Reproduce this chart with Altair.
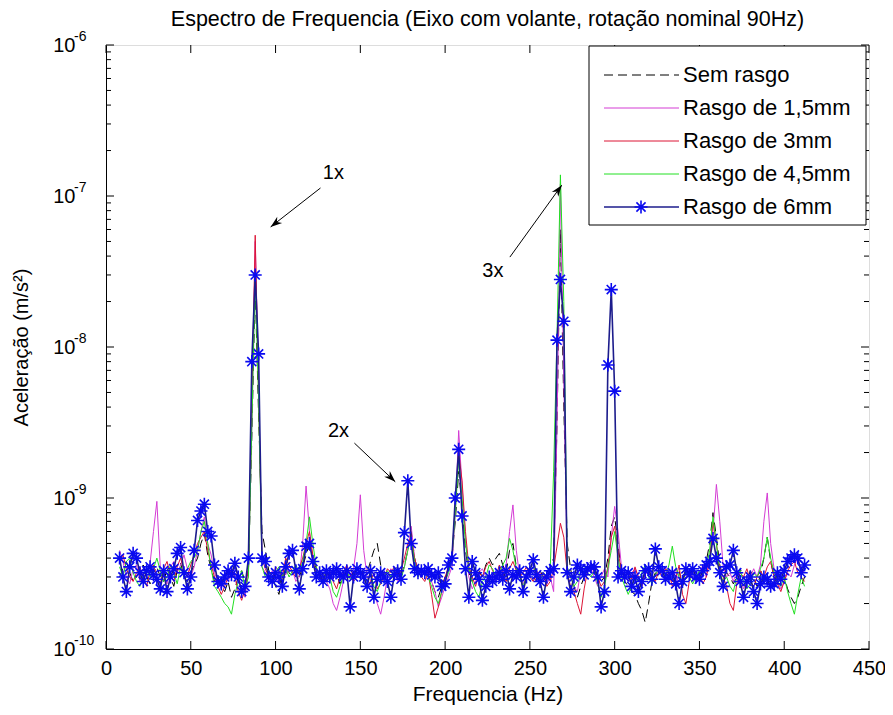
import altair as alt
import pandas as pd

# ---------------- data (acceleration in units of 1e-10 m/s^2) ----------------
freq_hz = list(range(8, 413, 2))

sem_rasgo = [
    3.0, 3.4, 3.8, 3.2, 2.8, 3.0, 3.3, 3.6, 3.0, 2.7,
    3.2, 3.5, 3.0, 2.8, 3.4, 3.0, 2.6, 3.3, 3.7, 3.0,
    2.8, 3.2, 3.6, 4.0, 5.0, 5.8, 4.2, 3.4, 2.8, 3.0,
    2.6, 2.4, 2.8, 2.2, 2.5, 3.0, 3.3, 2.8, 3.2, 25,
    250, 35, 6.0, 4.5, 3.3, 3.0, 2.6, 2.3, 3.0, 3.4,
    3.2, 3.0, 3.4, 3.0, 3.5, 4.2, 5.0, 4.0, 3.4, 3.0,
    3.2, 2.8, 3.0, 3.4, 3.1, 2.7, 3.0, 3.2, 3.5, 3.0,
    3.3, 3.6, 3.0, 3.2, 3.8, 4.5, 5.0, 3.6, 3.0, 3.2,
    3.0, 3.3, 3.5, 3.0, 3.6, 4.5, 6.0, 4.0, 3.3, 3.0,
    3.2, 3.0, 2.8, 2.4, 2.2, 2.6, 3.0, 3.3, 4.0, 7.0,
    15, 9.0, 4.5, 3.2, 2.8, 3.0, 3.3, 3.0, 3.6, 4.0,
    3.6, 4.0, 4.3, 3.6, 3.2, 4.5, 5.0, 3.5, 3.0, 2.8,
    3.2, 3.5, 3.0, 2.8, 3.3, 3.0, 3.2, 3.5, 4.0, 30,
    600, 40, 5.0, 3.4, 2.6, 2.2, 2.6, 3.0, 3.4, 3.6,
    3.3, 3.0, 2.8, 3.0, 4.0, 6.5, 7.5, 5.0, 3.2, 2.8,
    2.6, 2.4, 2.3, 2.0, 1.8, 1.5, 2.0, 2.8, 3.2, 3.0,
    3.4, 3.0, 3.2, 2.8, 3.0, 3.3, 2.6, 3.0, 3.2, 3.5,
    3.2, 3.0, 3.4, 3.8, 5.0, 8.0, 5.5, 3.6, 3.0, 3.2,
    3.0, 2.7, 3.0, 3.4, 3.0, 2.8, 3.3, 3.0, 2.6, 3.1,
    4.0, 5.5, 3.8, 3.0, 2.8, 3.2, 3.0, 2.5, 2.2, 2.0,
    2.2, 2.6, 3.0,
]

rasgo_1_5mm = [
    4.5, 3.8, 3.0, 2.7, 3.4, 3.6, 2.8, 3.0, 3.2, 3.7,
    6.0, 9.5, 3.5, 3.0, 2.7, 3.5, 3.8, 3.2, 3.6, 4.2,
    3.4, 3.0, 3.5, 4.5, 6.0, 7.5, 5.0, 4.2, 3.2, 2.8,
    2.5, 3.0, 2.8, 3.2, 3.5, 3.0, 2.4, 2.2, 3.2, 30,
    500, 60, 3.5, 3.2, 2.8, 3.3, 3.0, 2.7, 3.4, 3.1,
    3.5, 3.3, 2.8, 3.0, 5.0, 12, 6.0, 3.8, 3.2, 3.0,
    3.0, 2.8, 2.5, 2.0, 1.8, 2.2, 2.8, 3.2, 3.0, 3.4,
    5.0, 10.5, 4.5, 3.0, 2.6, 2.4, 2.0, 1.7, 2.2, 3.0,
    3.4, 3.2, 2.8, 3.0, 3.5, 4.5, 6.5, 4.0, 3.2, 3.0,
    3.3, 3.0, 2.8, 2.4, 1.9, 2.2, 2.6, 3.0, 3.5, 8.0,
    28, 12, 5.5, 3.0, 2.5, 2.8, 3.2, 3.4, 3.0, 2.8,
    3.1, 2.8, 3.0, 3.2, 3.6, 6.0, 9.0, 4.5, 3.0, 2.7,
    3.0, 3.3, 3.5, 2.8, 3.2, 3.0, 2.7, 3.0, 2.4, 30,
    1200, 60, 3.5, 3.0, 2.6, 2.4, 3.3, 3.0, 3.2, 3.4,
    3.0, 2.6, 3.0, 3.4, 3.0, 5.5, 8.8, 6.0, 3.5, 3.0,
    2.8, 3.2, 3.4, 3.0, 2.6, 3.1, 3.3, 2.9, 3.0, 3.5,
    3.2, 3.5, 3.0, 2.8, 3.4, 2.5, 2.7, 3.0, 3.3, 3.0,
    2.8, 3.2, 3.6, 3.0, 4.0, 6.0, 12.3, 7.0, 3.5, 3.0,
    3.2, 2.8, 3.3, 3.0, 2.5, 2.8, 3.0, 3.4, 3.0, 3.6,
    7.0, 10.8, 5.0, 3.4, 2.8, 2.5, 2.8, 3.2, 3.0, 3.6,
    4.0, 3.4, 3.2,
]

rasgo_3mm = [
    3.8, 4.2, 3.4, 3.0, 2.8, 3.2, 3.5, 3.0, 2.6, 3.3,
    3.6, 3.0, 2.7, 3.4, 3.8, 3.1, 2.8, 3.5, 4.0, 3.3,
    3.0, 3.6, 4.2, 5.0, 5.5, 6.0, 4.5, 3.6, 3.0, 2.6,
    2.3, 2.6, 3.0, 3.4, 3.0, 2.4, 2.1, 2.5, 3.5, 40,
    550, 50, 4.0, 3.4, 3.0, 2.8, 3.5, 3.3, 3.0, 4.0,
    3.6, 3.2, 3.0, 3.4, 4.0, 5.0, 6.0, 4.2, 3.5, 3.0,
    2.7, 3.0, 3.3, 2.8, 2.5, 3.0, 3.2, 3.6, 3.1, 2.8,
    3.0, 3.3, 3.0, 2.6, 2.8, 3.2, 2.5, 2.7, 3.0, 3.4,
    3.2, 3.5, 3.0, 3.3, 4.0, 5.0, 5.5, 4.0, 3.3, 3.0,
    2.8, 3.2, 2.3, 1.6, 1.9, 2.4, 3.0, 3.5, 4.0, 9.0,
    20, 13, 6.0, 3.5, 3.0, 2.6, 3.2, 3.0, 3.5, 3.8,
    3.3, 3.0, 3.6, 3.2, 2.8, 3.4, 3.8, 3.3, 3.0, 3.2,
    3.5, 3.0, 2.8, 3.3, 3.0, 3.2, 2.6, 2.8, 3.4, 4.8,
    6.8, 5.5, 3.2, 2.6, 2.4, 2.0, 1.7, 2.5, 3.3, 3.6,
    3.2, 3.0, 2.6, 2.8, 3.5, 5.5, 6.5, 4.5, 3.2, 3.0,
    3.3, 2.9, 3.5, 3.0, 2.6, 3.2, 3.4, 3.0, 2.8, 3.3,
    3.0, 3.4, 3.2, 2.6, 2.9, 3.6, 2.3, 2.0, 2.8, 3.4,
    3.0, 3.2, 2.7, 3.0, 3.8, 7.0, 5.0, 3.4, 3.0, 2.6,
    2.0, 1.8, 2.7, 3.2, 3.0, 3.4, 2.8, 2.6, 3.0, 3.3,
    3.0, 3.5, 3.8, 3.0, 2.7, 2.4, 2.8, 3.3, 3.6, 3.8,
    3.2, 3.0, 2.8,
]

rasgo_4_5mm = [
    3.5, 3.0, 3.8, 4.0, 3.2, 2.8, 2.6, 3.1, 3.4, 3.0,
    3.4, 4.0, 3.3, 2.8, 3.0, 3.6, 3.2, 2.7, 3.5, 3.0,
    3.4, 3.8, 4.0, 4.5, 6.0, 7.0, 5.0, 3.4, 2.6, 2.4,
    2.2, 2.0, 1.9, 1.7, 2.3, 2.8, 3.3, 2.5, 3.0, 30,
    300, 45, 3.5, 3.0, 3.3, 2.8, 3.2, 3.5, 3.0, 3.4,
    3.0, 3.3, 3.6, 3.2, 3.8, 5.0, 7.5, 5.0, 3.5, 3.0,
    2.8, 3.2, 3.0, 2.4, 2.2, 2.6, 3.0, 3.3, 2.9, 3.1,
    3.4, 3.2, 3.0, 2.8, 3.2, 2.6, 2.4, 2.8, 3.0, 3.3,
    3.0, 3.4, 3.2, 2.9, 3.5, 4.5, 5.5, 3.8, 3.0, 3.4,
    3.2, 3.0, 2.6, 2.2, 2.0, 2.4, 2.8, 3.2, 4.0, 8.0,
    18, 10, 5.0, 3.4, 2.8, 2.4, 2.2, 2.8, 3.0, 3.6,
    3.4, 3.0, 3.2, 3.6, 4.0, 5.4, 4.5, 3.4, 3.0, 2.6,
    3.0, 3.3, 3.5, 3.1, 2.8, 3.2, 3.0, 3.4, 15, 120,
    1380, 200, 3.5, 3.0, 2.6, 2.8, 3.3, 3.6, 3.2, 3.0,
    3.3, 2.7, 2.2, 2.6, 3.4, 4.5, 6.0, 4.0, 3.0, 2.6,
    2.3, 2.6, 3.0, 2.8, 3.2, 3.6, 3.0, 2.7, 3.1, 3.4,
    3.3, 3.0, 3.6, 4.8, 3.5, 3.0, 2.8, 3.2, 3.0, 2.7,
    3.0, 3.3, 3.1, 3.4, 4.5, 7.5, 5.0, 3.2, 2.8, 3.0,
    2.6, 2.4, 3.0, 3.3, 2.8, 2.5, 2.7, 3.2, 3.0, 3.4,
    4.0, 5.5, 4.0, 3.2, 2.8, 2.6, 3.0, 2.4, 2.0, 1.7,
    2.3, 3.0, 2.6,
]

rasgo_6mm = [
    4.0, 3.0, 2.4, 3.5, 4.3, 4.0, 3.2, 2.8, 3.3, 3.5,
    3.1, 2.9, 2.5, 3.3, 2.4, 3.0, 3.4, 4.3, 4.7, 3.2,
    2.5, 3.0, 4.5, 7.1, 8.2, 9.1, 6.0, 5.6, 3.6, 2.8,
    2.7, 3.0, 3.3, 3.1, 3.7, 3.0, 2.4, 2.6, 4.0, 80,
    300, 90, 4.0, 3.8, 3.0, 2.8, 3.2, 3.0, 2.6, 3.5,
    4.3, 4.5, 3.3, 2.5, 3.4, 4.8, 5.0, 3.8, 3.0, 3.2,
    2.8, 3.3, 3.0, 3.2, 3.4, 3.1, 3.0, 3.3, 1.9, 3.0,
    3.4, 3.2, 3.0, 2.6, 3.3, 2.2, 2.9, 3.2, 3.0, 2.8,
    2.2, 3.1, 3.3, 2.9, 5.9, 13, 5.0, 3.4, 3.2, 3.3,
    3.2, 3.4, 3.1, 3.0, 3.2, 2.6, 2.7, 3.6, 4.0, 10,
    21, 7.6, 3.4, 2.2, 3.8, 3.2, 2.9, 2.1, 2.6, 3.0,
    2.8, 3.0, 3.2, 2.9, 3.3, 2.5, 3.1, 3.0, 3.3, 2.4,
    3.0, 3.3, 3.9, 3.1, 2.8, 2.2, 3.0, 3.3, 3.4, 111,
    280, 148, 3.2, 2.4, 3.0, 3.6, 3.4, 3.1, 3.4, 3.5,
    3.5, 3.0, 1.9, 2.4, 76, 240, 51, 3.0, 3.3, 3.0,
    3.2, 2.6, 3.0, 2.4, 2.8, 3.3, 3.4, 2.9, 4.6, 3.5,
    3.3, 2.9, 3.0, 3.2, 2.7, 2.0, 2.8, 3.4, 3.1, 3.4,
    3.0, 2.9, 3.3, 3.6, 3.8, 5.4, 4.0, 3.2, 2.6, 3.5,
    3.6, 4.5, 3.2, 2.8, 2.2, 2.8, 3.0, 2.4, 2.0, 2.7,
    3.0, 2.9, 2.6, 2.7, 3.2, 2.9, 3.3, 3.8, 4.0, 4.2,
    4.0, 3.2, 3.6,
]

series_names = ["Sem rasgo", "Rasgo de 1,5mm", "Rasgo de 3mm", "Rasgo de 4,5mm", "Rasgo de 6mm"]
series_values = [sem_rasgo, rasgo_1_5mm, rasgo_3mm, rasgo_4_5mm, rasgo_6mm]
series_colors = ["#000000", "#d43cd4", "#dc1435", "#22e022", "#1c1c8c"]

x_tick_values = [0, 50, 100, 150, 200, 250, 300, 350, 400, 450]
decades = [1e-10, 1e-9, 1e-8, 1e-7, 1e-6]
decade_exps = ["-10", "-9", "-8", "-7", "-6"]
minor_mantissas = [2, 3, 4, 5, 6, 7, 8, 9]

ann_labels = ["1x", "2x", "3x"]
ann_label_f = [134.1, 137.1, 228.2]
ann_label_a = [1.42e-7, 2.78e-9, 3.18e-8]
ann_tail_f = [126.5, 146.5, 238.2]
ann_tail_a = [1.13e-7, 2.31e-9, 3.94e-8]
ann_head_f = [97.1, 170.6, 268.8]
ann_head_a = [6.24e-8, 1.28e-9, 1.18e-7]
ann_head_angle = [232, 134, 36]

# ---------------- tables ----------------
rows = []
for name, vals in zip(series_names, series_values):
    for f, v in zip(freq_hz, vals):
        rows.append({"f": f, "a": v * 1e-10, "s": name})
df = pd.DataFrame(rows)

major_df = pd.DataFrame({"v": decades, "e": decade_exps})
minor_df = pd.DataFrame({"v": [m * d for d in decades[:-1] for m in minor_mantissas]})
xt_df = pd.DataFrame({"v": x_tick_values})
ann_df = pd.DataFrame({
    "lab": ann_labels, "lf": ann_label_f, "la": ann_label_a,
    "tf": ann_tail_f, "ta": ann_tail_a, "hf": ann_head_f, "ha": ann_head_a,
    "ang": ann_head_angle,
})
one = pd.DataFrame({"k": [0]})

# ---------------- scales / axes ----------------
W, H = 763, 604
FONT = "Liberation Sans"
xs = alt.Scale(domain=[0, 450], nice=False, zero=False)
ys = alt.Scale(type="log", domain=[1e-10, 1e-6], nice=False)

x_axis = alt.Axis(values=x_tick_values, ticks=False, grid=False, labelFontSize=20,
                  labelPadding=9, labelColor="black", labelFont=FONT, format="d",
                  title="Frequencia (Hz)", titleFontSize=21, titleFontWeight="normal",
                  titleColor="black", titleFont=FONT, titlePadding=5,
                  domainColor="black", labelFlush=False)
y_axis = alt.Axis(values=decades, ticks=False, grid=False, labelExpr="'10'",
                  labelFontSize=20, labelPadding=31, labelColor="black", labelFont=FONT,
                  title="Aceleração (m/s²)", titleFontSize=20, titleFontWeight="normal",
                  titleColor="black", titleFont=FONT, titlePadding=21,
                  domainColor="black", labelOverlap=False)


def X(field):
    return alt.X(field, type="quantitative", scale=xs, axis=x_axis)


def Y(field):
    return alt.Y(field, type="quantitative", scale=ys, axis=y_axis)


STAR = "M-1,0L1,0M0,-1L0,1M-0.7,-0.7L0.7,0.7M-0.7,0.7L0.7,-0.7"
ARROW = "M0,0L0.8,2.3L0,1.6L-0.8,2.3Z"

layers = []
for name, color in zip(series_names, series_colors):
    kw = dict(color=color, strokeWidth=1.0)
    if name == "Sem rasgo":
        kw["strokeDash"] = [9, 5]
    if name == "Rasgo de 6mm":
        kw["strokeWidth"] = 1.6
    layers.append(
        alt.Chart(df).transform_filter(alt.datum.s == name)
        .mark_line(**kw).encode(x=X("f"), y=Y("a"))
    )

layers.append(
    alt.Chart(df).transform_filter(alt.datum.s == "Rasgo de 6mm")
    .mark_point(shape=STAR, size=170, strokeWidth=1.6, color="#0a0af0", filled=False, opacity=1)
    .encode(x=X("f"), y=Y("a"))
)

# tick marks (inward, on all four sides)
layers += [
    alt.Chart(major_df).mark_rule(color="black", strokeWidth=1).encode(y=Y("v"), x=alt.value(0), x2=alt.value(8)),
    alt.Chart(major_df).mark_rule(color="black", strokeWidth=1).encode(y=Y("v"), x=alt.value(W), x2=alt.value(W - 8)),
    alt.Chart(minor_df).mark_rule(color="black", strokeWidth=1).encode(y=Y("v"), x=alt.value(0), x2=alt.value(5)),
    alt.Chart(minor_df).mark_rule(color="black", strokeWidth=1).encode(y=Y("v"), x=alt.value(W), x2=alt.value(W - 5)),
    alt.Chart(xt_df).mark_rule(color="black", strokeWidth=1).encode(x=X("v"), y=alt.value(H), y2=alt.value(H - 8)),
    alt.Chart(xt_df).mark_rule(color="black", strokeWidth=1).encode(x=X("v"), y=alt.value(0), y2=alt.value(8)),
    alt.Chart(major_df).mark_text(align="left", baseline="middle", fontSize=14, font=FONT,
                                  color="black", dy=-8)
    .encode(y=Y("v"), x=alt.value(-32), text="e:N"),
]

# annotations
layers += [
    alt.Chart(ann_df).mark_rule(color="black", strokeWidth=1)
    .encode(x=X("tf"), x2="hf:Q", y=Y("ta"), y2="ha:Q"),
    alt.Chart(ann_df).mark_point(shape=ARROW, size=100, filled=True, color="black", opacity=1)
    .encode(x=X("hf"), y=Y("ha"), angle=alt.Angle("ang:Q", scale=None)),
    alt.Chart(ann_df).mark_text(fontSize=20, font=FONT, color="black", align="center", baseline="middle")
    .encode(x=X("lf"), y=Y("la"), text="lab:N"),
]

# legend box
layers.append(
    alt.Chart(one).mark_rect(fill="white", stroke="black", strokeWidth=1)
    .encode(x=alt.value(W - 280), x2=alt.value(W - 3), y=alt.value(1), y2=alt.value(180))
)
for i, (name, color) in enumerate(zip(series_names, series_colors)):
    yy = 30 + 33 * i
    kw = dict(color=color, strokeWidth=1.0)
    if name == "Sem rasgo":
        kw["strokeDash"] = [9, 5]
    if name == "Rasgo de 6mm":
        kw["strokeWidth"] = 1.6
    layers.append(alt.Chart(one).mark_rule(**kw)
                  .encode(x=alt.value(W - 265), x2=alt.value(W - 190), y=alt.value(yy)))
    layers.append(alt.Chart(one).mark_text(align="left", baseline="middle", fontSize=22,
                                           font=FONT, color="black", text=name)
                  .encode(x=alt.value(W - 186), y=alt.value(yy)))
layers.append(
    alt.Chart(one).mark_point(shape=STAR, size=170, strokeWidth=1.6, color="#0a0af0", filled=False, opacity=1)
    .encode(x=alt.value(W - 228), y=alt.value(30 + 33 * 4))
)

chart = alt.layer(*layers).properties(
    width=W, height=H,
    autosize=alt.AutoSizeParams(type="none"),
    padding={"left": 98, "top": 37, "right": 16, "bottom": 58},
    title=alt.TitleParams("Espectro de Frequencia (Eixo com volante, rotação nominal 90Hz)",
                          fontSize=21.5, fontWeight="normal", font=FONT, color="black",
                          anchor="middle", offset=0),
).configure_view(stroke="black", strokeWidth=1).configure(background="white", font=FONT)

chart.save("out.html", embed_options={"renderer": "svg", "actions": False})
